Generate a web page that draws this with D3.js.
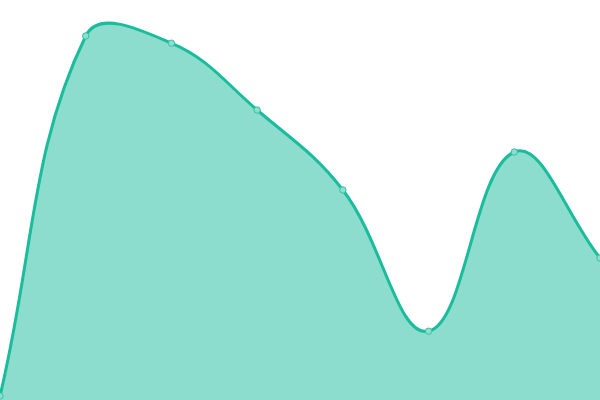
<!DOCTYPE html>
<html><head><meta charset="utf-8">
<script src="https://cdn.jsdelivr.net/npm/d3@7"></script>
<style>html,body{margin:0;padding:0;background:#fff;overflow:hidden}</style>
</head><body><svg id="c" width="600" height="400"></svg>
<script>
const categories = ["A","B","C","D","E","F","G","H"];
const values = [1, 91, 89.2, 72.5, 52.5, 17.2, 62, 35.5];

const W = 600, H = 400;
const svg = d3.select("#c");
const x = d3.scalePoint().domain(categories).range([0, W]);
const y = d3.scaleLinear().domain([0, 100]).range([H, 0]);
const pts = categories.map((c, i) => [x(c), y(values[i])]);

// spline with tension (control points capped to the plot area)
function splinePath(p, tension, closeToBase) {
  const n = p.length, cps = [];
  for (let i = 0; i < n; i++) {
    const prev = p[Math.max(0, i - 1)], cur = p[i], next = p[Math.min(n - 1, i + 1)];
    const d01 = Math.hypot(cur[0] - prev[0], cur[1] - prev[1]);
    const d12 = Math.hypot(next[0] - cur[0], next[1] - cur[1]);
    let s01 = d01 / (d01 + d12), s12 = d12 / (d01 + d12);
    if (isNaN(s01)) s01 = 0; if (isNaN(s12)) s12 = 0;
    const fa = tension * s01, fb = tension * s12;
    const cap = q => [Math.max(0, Math.min(W, q[0])), Math.max(0, Math.min(H, q[1]))];
    cps.push({
      prev: cap([cur[0] - fa * (next[0] - prev[0]), cur[1] - fa * (next[1] - prev[1])]),
      next: cap([cur[0] + fb * (next[0] - prev[0]), cur[1] + fb * (next[1] - prev[1])])
    });
  }
  const path = d3.path();
  path.moveTo(p[0][0], p[0][1]);
  for (let i = 1; i < n; i++) {
    path.bezierCurveTo(cps[i - 1].next[0], cps[i - 1].next[1], cps[i].prev[0], cps[i].prev[1], p[i][0], p[i][1]);
  }
  if (closeToBase) {
    path.lineTo(p[n - 1][0], y(0));
    path.lineTo(p[0][0], y(0));
    path.closePath();
  }
  return path.toString();
}

svg.append("path").attr("d", splinePath(pts, 0.4, true)).attr("fill", "rgba(26,188,156,0.5)");
svg.append("path").attr("d", splinePath(pts, 0.4, false))
  .attr("fill", "none").attr("stroke", "#1abc9c").attr("stroke-width", 3);
svg.selectAll("circle").data(pts).join("circle")
  .attr("cx", d => d[0]).attr("cy", d => d[1]).attr("r", 3.2)
  .attr("fill", "#8ddecd").attr("stroke", "#35c2a6").attr("stroke-width", 1);
</script></body></html>
